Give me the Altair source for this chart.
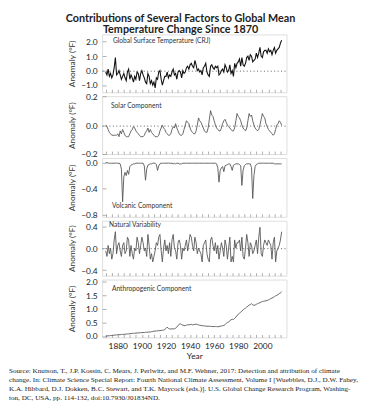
import altair as alt
import pandas as pd

years = list(range(1870, 2017))

global_temp = [
    -0.1, -0.3, 0.1, -0.4, -0.2, -0.5, -0.3, 0.2, 0.9, -0.3,
    -0.2, 0.0, -0.3, -0.6, -0.4, -0.2, -0.5, -0.7, -0.1, 0.1,
    -0.6, -0.3, -0.5, -0.8, -0.4, -0.6, -0.1, -0.2, -0.7, -0.2,
    0.0, -0.3, -0.5, -0.8, -0.9, -0.2, -0.4, -0.9, -0.7, -1.0,
    -0.8, -1.2, -0.5, -0.6, -0.1, 0.0, -0.6, -1.0, -0.7, -0.4,
    -0.4, -0.1, -0.5, -0.3, -0.4, -0.1, 0.1, -0.3, -0.2, -0.6,
    -0.1, 0.0, -0.1, -0.5, 0.0, -0.2, -0.1, 0.2, 0.3, 0.1,
    0.4, 0.5, 0.3, 0.2, 0.7, 0.4, 0.0, 0.1, -0.1, 0.0,
    -0.3, 0.2, 0.3, 0.5, -0.1, -0.3, -0.4, 0.3, 0.4, 0.2,
    0.1, 0.3, 0.2, 0.3, -0.3, -0.2, 0.0, 0.1, -0.1, 0.4,
    0.2, -0.1, 0.0, 0.4, -0.2, 0.0, -0.4, 0.5, 0.2, 0.5,
    0.6, 0.8, 0.3, 0.9, 0.4, 0.3, 0.5, 0.9, 1.0, 0.7,
    1.1, 1.0, 0.6, 0.7, 0.8, 1.2, 0.9, 1.2, 1.6, 1.0,
    0.9, 1.3, 1.4, 1.4, 1.2, 1.5, 1.3, 1.4, 1.1, 1.4,
    1.6, 1.2, 1.4, 1.5, 1.6, 1.9, 2.1,
]

solar = [
    0.00, -0.01, -0.03, -0.05, -0.06, -0.07, -0.07, -0.07, -0.07, -0.07,
    -0.06, -0.08, -0.04, -0.06, -0.03, -0.05, -0.07, -0.08, -0.08, -0.08,
    -0.06, -0.04, -0.03, -0.01, -0.02, -0.04, -0.05, -0.06, -0.07, -0.08,
    -0.08, -0.08, -0.07, -0.05, -0.04, -0.02, -0.05, -0.03, -0.05, -0.06,
    -0.07, -0.08, -0.08, -0.08, -0.07, -0.04, -0.02, 0.00, -0.02, -0.03,
    -0.05, -0.06, -0.07, -0.07, -0.06, -0.03, -0.01, -0.02, 0.01, -0.02,
    -0.04, -0.06, -0.07, -0.07, -0.06, -0.03, 0.00, 0.03, 0.02, 0.01,
    -0.02, -0.04, -0.05, -0.06, -0.06, -0.04, 0.00, 0.05, 0.03, 0.02,
    0.00, -0.02, -0.04, -0.05, -0.05, -0.02, 0.04, 0.10, 0.07, 0.06,
    0.03, 0.00, -0.02, -0.03, -0.04, -0.04, -0.02, 0.01, 0.03, 0.04,
    0.02, 0.00, -0.01, -0.02, -0.03, -0.04, -0.04, -0.02, 0.03, 0.08,
    0.06, 0.05, 0.03, 0.00, -0.02, -0.03, -0.04, -0.02, 0.03, 0.08,
    0.06, 0.07, 0.03, 0.00, -0.02, -0.03, -0.04, -0.03, 0.00, 0.04,
    0.08, 0.06, 0.05, 0.01, -0.01, -0.03, -0.04, -0.05, -0.06, -0.07,
    -0.06, -0.03, 0.00, 0.01, 0.03, 0.02, 0.00,
]

volcanic = [
    0.00, 0.00, -0.01, -0.01, -0.01, -0.01, -0.01, -0.01, -0.01, -0.01,
    -0.01, -0.01, -0.02, -0.10, -0.60, -0.22, -0.15, -0.20, -0.12, -0.18,
    -0.06, -0.04, -0.03, -0.02, -0.02, -0.01, -0.01, -0.01, -0.01, -0.01,
    -0.01, -0.01, -0.05, -0.27, -0.10, -0.04, -0.03, -0.02, -0.02, -0.01,
    -0.01, -0.01, -0.03, -0.12, -0.05, -0.02, -0.01, -0.01, -0.01, -0.01,
    -0.01, -0.01, -0.01, -0.01, -0.01, -0.01, -0.02, -0.01, -0.02, -0.01,
    -0.01, -0.02, -0.02, -0.02, -0.01, -0.01, -0.01, -0.01, -0.01, -0.01,
    -0.01, -0.01, -0.01, -0.01, -0.01, -0.01, -0.01, -0.01, -0.01, -0.01,
    -0.01, -0.01, -0.01, -0.01, -0.01, -0.01, -0.01, -0.01, -0.01, -0.01,
    -0.01, -0.01, -0.02, -0.08, -0.30, -0.12, -0.08, -0.06, -0.14, -0.05,
    -0.04, -0.03, -0.02, -0.02, -0.06, -0.12, -0.04, -0.03, -0.02, -0.02,
    -0.02, -0.03, -0.05, -0.35, -0.12, -0.05, -0.03, -0.02, -0.02, -0.02,
    -0.02, -0.08, -0.55, -0.20, -0.06, -0.03, -0.02, -0.01, -0.01, -0.01,
    -0.01, -0.01, -0.01, -0.01, -0.01, -0.01, -0.01, -0.01, -0.01, -0.01,
    -0.02, -0.02, -0.02, -0.02, -0.02, -0.02, -0.02,
]

natural = [
    -0.05, -0.15, 0.05, -0.10, 0.00, -0.20, -0.10, 0.15, 0.30, -0.10,
    0.05, 0.10, -0.05, -0.15, 0.05, 0.10, -0.10, -0.05, 0.20, 0.15,
    -0.15, 0.05, -0.10, -0.20, 0.00, -0.05, 0.20, 0.10, -0.10, 0.05,
    0.20, 0.10, -0.05, 0.00, -0.15, 0.25, 0.05, -0.20, -0.10, -0.25,
    -0.15, -0.05, 0.10, 0.05, 0.20, 0.25, -0.05, -0.25, 0.00, 0.15,
    -0.05, 0.05, -0.10, 0.10, -0.15, 0.15, 0.25, 0.00, -0.05, -0.20,
    0.10, 0.15, 0.05, -0.20, 0.00, -0.05, 0.05, 0.15, -0.05, 0.10,
    0.25, 0.20, 0.05, -0.05, 0.20, 0.10, -0.10, 0.00, -0.05, -0.10,
    -0.25, 0.05, 0.10, 0.15, -0.10, -0.20, -0.25, 0.15, 0.20, 0.05,
    -0.05, 0.10, -0.10, 0.05, -0.20, -0.05, 0.10, 0.00, -0.15, 0.15,
    0.05, -0.20, 0.00, 0.20, -0.25, -0.15, -0.25, 0.15, 0.00, 0.10,
    0.10, 0.15, -0.05, 0.20, -0.15, -0.20, 0.00, 0.25, 0.10, -0.15,
    0.10, 0.05, -0.10, -0.05, 0.05, 0.15, -0.10, 0.20, 0.38, -0.10,
    -0.15, 0.05, 0.15, 0.10, 0.05, 0.15, 0.10, 0.05, -0.20, 0.10,
    0.20, -0.25, -0.05, 0.00, 0.05, 0.15, 0.30,
]

anthro = [
    0.00, 0.00, 0.01, 0.01, 0.02, 0.02, 0.03, 0.03, 0.04, 0.04,
    0.05, 0.05, 0.05, 0.06, 0.06, 0.06, 0.07, 0.07, 0.08, 0.08,
    0.09, 0.09, 0.10, 0.10, 0.10, 0.11, 0.11, 0.12, 0.12, 0.12,
    0.13, 0.13, 0.13, 0.14, 0.14, 0.14, 0.15, 0.15, 0.16, 0.17,
    0.18, 0.18, 0.19, 0.19, 0.20, 0.20, 0.21, 0.21, 0.22, 0.24,
    0.28, 0.33, 0.28, 0.26, 0.26, 0.27, 0.26, 0.27, 0.29, 0.33,
    0.38, 0.44, 0.45, 0.42, 0.40, 0.39, 0.38, 0.40, 0.42, 0.41,
    0.42, 0.43, 0.41, 0.42, 0.43, 0.44, 0.42, 0.41, 0.40, 0.39,
    0.38, 0.38, 0.37, 0.37, 0.36, 0.36, 0.36, 0.36, 0.35, 0.35,
    0.35, 0.35, 0.35, 0.34, 0.35, 0.36, 0.37, 0.38, 0.39, 0.42,
    0.47, 0.50, 0.52, 0.56, 0.60, 0.62, 0.61, 0.65, 0.70, 0.76,
    0.80, 0.84, 0.88, 0.92, 0.96, 1.00, 1.03, 1.07, 1.10, 1.14,
    1.16, 1.19, 1.15, 1.13, 1.14, 1.17, 1.19, 1.21, 1.23, 1.25,
    1.27, 1.28, 1.29, 1.30, 1.31, 1.33, 1.35, 1.38, 1.40, 1.42,
    1.45, 1.48, 1.50, 1.53, 1.56, 1.59, 1.63,
]

x_tick_years = list(range(1870, 2020, 5))

title_text = ("Contributions of Several Factors to Global Mean\n"
              "Temperature Change Since 1870")
caption = ("Source: Knutson, T., J.P. Kossin, C. Mears, J. Perlwitz, and M.F. Wehner, 2017: Detection and attribution of climate\n"
           "change. In: Climate Science Special Report: Fourth National Climate Assessment, Volume I [Wuebbles, D.J., D.W. Fahey,\n"
           "K.A. Hibbard, D.J. Dokken, B.C. Stewart, and T.K. Maycock (eds.)]. U.S. Global Change Research Program, Washing-\n"
           "ton, DC, USA, pp. 114-132, doi:10.7930/J01834ND.")

FONT = "Lato"
X_DOMAIN = [1867, 2020]
W = 188
FRAME = "#9a9a9a"
ZERO_GRID = {"condition": {"test": "datum.value === 0", "value": 1}, "value": 0}


def panel(values, label, domain, major, height, color, label_x, label_y,
          zero_line=False, first=False, last=False, width=0.9):
    df = pd.DataFrame({"year": years, "value": values})
    xscale = alt.Scale(domain=X_DOMAIN, nice=False, zero=False)
    yscale = alt.Scale(domain=domain, nice=False, zero=False)
    xaxis_common = dict(values=x_tick_years, offset=-3, ticks=True, tickSize=3,
                        tickColor=FRAME, tickWidth=0.8, domain=False, grid=False)
    if last:
        xaxis = alt.Axis(format="d", labelExpr="datum.value % 20 == 0 ? datum.label : ''",
                         labelFont=FONT, labelFontSize=8.5, labelColor="#222",
                         labelPadding=4, labelOverlap=False,
                         title="Year", titleFont=FONT, titleFontSize=8.5,
                         titleFontWeight="normal", titleColor="#222", titlePadding=2,
                         **xaxis_common)
    else:
        xaxis = alt.Axis(labels=False, title=None, **xaxis_common)
    yargs = dict(values=major, format=".1f", offset=-4, ticks=True, tickSize=4,
                 tickColor=FRAME, tickWidth=0.8, domain=False,
                 labelFont=FONT, labelFontSize=8.5, labelColor="#222", labelPadding=5,
                 labelOverlap=False,
                 title="Anomaly (°F)", titleFont=FONT, titleFontSize=8.5,
                 titleFontWeight="normal", titleColor="#333",
                 titleX=-30, titleY=height / 2)
    if zero_line:
        yargs.update(grid=True, gridColor="#333", gridDash=[1, 2.5], gridWidth=0.8,
                     gridOpacity=ZERO_GRID)
    else:
        yargs.update(grid=False)
    yaxis = alt.Axis(**yargs)
    line = alt.Chart(df).mark_line(color=color, strokeWidth=width, clip=True).encode(
        x=alt.X("year:Q", scale=xscale, axis=xaxis),
        y=alt.Y("value:Q", scale=yscale, axis=yaxis),
    )
    lab = alt.Chart(pd.DataFrame({"t": [label]})).mark_text(
        align="left", baseline="top", font=FONT, fontSize=6.8, color="#333").encode(
        text="t:N", x=alt.value(label_x), y=alt.value(label_y))
    layers = [line, lab]
    if first:
        ttl = alt.Chart(pd.DataFrame({"t": [title_text]})).mark_text(
            align="center", baseline="top", font=FONT, fontSize=11, fontWeight="bold",
            color="#222", lineBreak="\n", lineHeight=11.5).encode(
            text="t:N", x=alt.value(80), y=alt.value(-22))
        layers.append(ttl)
    if last:
        cap = alt.Chart(pd.DataFrame({"t": [caption]})).mark_text(
            align="left", baseline="alphabetic", font="Liberation Serif", fontSize=7.3,
            color="#222", lineBreak="\n", lineHeight=9.3).encode(
            text="t:N", x=alt.value(-95), y=alt.value(height + 36))
        layers.append(cap)
    return alt.layer(*layers).properties(width=W, height=height)


p1 = panel(global_temp, "Global Surface Temperature (CRJ)", [-1.5, 2.5],
           [-1.0, 0.0, 1.0, 2.0], 59, "#111", 11, 4,
           zero_line=True, first=True, width=1.1)
p2 = panel(solar, "Solar Component", [-0.2, 0.2],
           [-0.2, 0.0, 0.2], 59, "#555", 9, 7, zero_line=True)
p3 = panel(volcanic, "Volcanic Component", [-0.83, 0.07],
           [-0.8, -0.4, 0.0], 60, "#555", 10, 46)
p4 = panel(natural, "Natural Variability", [-0.5, 0.5],
           [-0.4, 0.0, 0.4], 56, "#555", 7, 1, zero_line=True)
p5 = panel(anthro, "Anthropogenic Component", [-0.05, 2.08],
           [0.0, 0.5, 1.0, 1.5, 2.0], 59, "#555", 10, 7, last=True)

chart = alt.vconcat(p1, p2, p3, p4, p5, spacing=4, bounds="flush").properties(
    padding=0,
).configure_view(stroke=FRAME, strokeWidth=1).configure(background="white")

chart.save("out.html", embed_options={"renderer": "svg", "actions": False})
